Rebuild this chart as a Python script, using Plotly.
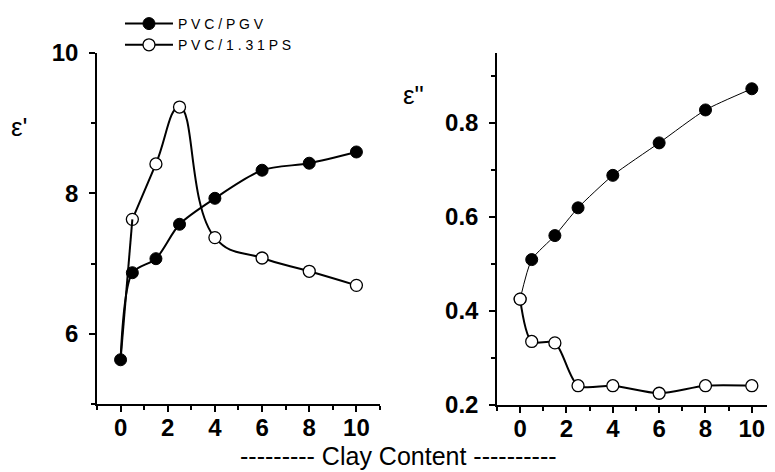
import plotly.graph_objects as go

clay = [0, 0.5, 1.5, 2.5, 4, 6, 8, 10]
eps1_pgv = [5.63, 6.87, 7.07, 7.56, 7.93, 8.33, 8.43, 8.59]
eps1_ps = [5.63, 7.63, 8.42, 9.23, 7.37, 7.08, 6.89, 6.69]
eps2_pgv = [0.425, 0.509, 0.56, 0.619, 0.688, 0.757, 0.827, 0.872]
eps2_ps = [0.425, 0.335, 0.332, 0.241, 0.241, 0.225, 0.241, 0.241]
x_ticks = [0, 2, 4, 6, 8, 10]
names = ["P V C / P G V", "P V C / 1 . 3 1 P S"]

fig = go.Figure()
filled = dict(symbol="circle", size=12, color="black", line=dict(color="black", width=1))
hollow = dict(symbol="circle", size=12, color="white", line=dict(color="black", width=1.3))

fig.add_trace(go.Scatter(x=clay, y=eps1_pgv, mode="lines+markers", name=names[0],
                         line=dict(color="black", width=2, shape="spline", smoothing=0.8),
                         marker=filled, xaxis="x", yaxis="y"))
fig.add_trace(go.Scatter(x=clay[1:], y=eps1_ps[1:], mode="lines+markers", name=names[1],
                         line=dict(color="black", width=2, shape="spline", smoothing=1.3),
                         marker=hollow, xaxis="x", yaxis="y"))
fig.add_trace(go.Scatter(x=clay[:2], y=eps1_ps[:2], mode="lines", showlegend=False,
                         line=dict(color="black", width=2), xaxis="x", yaxis="y"))
fig.add_trace(go.Scatter(x=clay, y=eps2_pgv, mode="lines+markers", showlegend=False,
                         line=dict(color="black", width=1, shape="spline", smoothing=0.6),
                         marker=filled, xaxis="x2", yaxis="y2"))
fig.add_trace(go.Scatter(x=clay, y=eps2_ps, mode="lines+markers", showlegend=False,
                         line=dict(color="black", width=2, shape="spline", smoothing=0.8),
                         marker=hollow, xaxis="x2", yaxis="y2"))

tickfont = dict(family="Liberation Sans", size=24, color="black")
axis_common = dict(showline=True, linecolor="black", linewidth=1.5, ticks="outside",
                   ticklen=6, tickwidth=1.5, tickcolor="black", showgrid=False,
                   zeroline=False, tickfont=tickfont, mirror=False, automargin=False)
minor_tick = dict(ticks="outside", ticklen=4, tickcolor="black", tickwidth=1.5)

fig.update_layout(
    width=767, height=464,
    paper_bgcolor="white", plot_bgcolor="white",
    margin=dict(l=0, r=0, t=0, b=0),
    xaxis=dict(domain=[0.1160, 0.4850], range=[-1, 11], tickvals=x_ticks,
               ticktext=[f"<b>{v}</b>" for v in x_ticks], ticklabelstandoff=-5,
               minor=dict(dtick=1, tick0=-1, **minor_tick), anchor="y", **axis_common),
    yaxis=dict(domain=[0.1466, 0.9030], range=[5, 10], tickvals=[6, 8, 10],
               ticktext=["<b>6</b>", "<b>8</b>", "<b>10</b>"], ticklabelstandoff=6,
               minor=dict(dtick=1, **minor_tick), anchor="x", **axis_common),
    xaxis2=dict(domain=[0.6375, 1.0], range=[-1, 11], tickvals=x_ticks,
                ticktext=[f"<b>{v}</b>" for v in x_ticks], ticklabelstandoff=-5,
                minor=dict(dtick=1, tick0=-1, **minor_tick), anchor="y2", **axis_common),
    yaxis2=dict(domain=[0.1444, 0.9030], range=[0.2, 0.948], tickvals=[0.2, 0.4, 0.6, 0.8],
                ticktext=["<b>0.2</b>", "<b>0.4</b>", "<b>0.6</b>", "<b>0.8</b>"], ticklabelstandoff=6,
                minor=dict(dtick=0.1, tick0=0.2, **minor_tick), anchor="x2", **axis_common),
    showlegend=True,
    legend=dict(x=0.146, y=1.0, xanchor="left", yanchor="top", bgcolor="rgba(0,0,0,0)",
                font=dict(family="Liberation Sans", size=14, color="black"), tracegroupgap=0,
                itemwidth=48),
    annotations=[
        dict(text="ε'", xref="paper", yref="paper", x=0.0156, y=0.7435, showarrow=False,
             xanchor="center", yanchor="middle",
             font=dict(family="Liberation Sans", size=26, color="black")),
        dict(text='ε"', xref="paper", yref="paper", x=0.529, y=0.8125, showarrow=False,
             xanchor="center", yanchor="middle",
             font=dict(family="Liberation Sans", size=26, color="black")),
        dict(text="--------- Clay Content ----------", xref="paper", yref="paper", x=0.5085, y=0.035,
             showarrow=False, xanchor="center", yanchor="middle",
             font=dict(family="Liberation Sans", size=25, color="black")),
    ],
)

fig.write_html("out.html")
